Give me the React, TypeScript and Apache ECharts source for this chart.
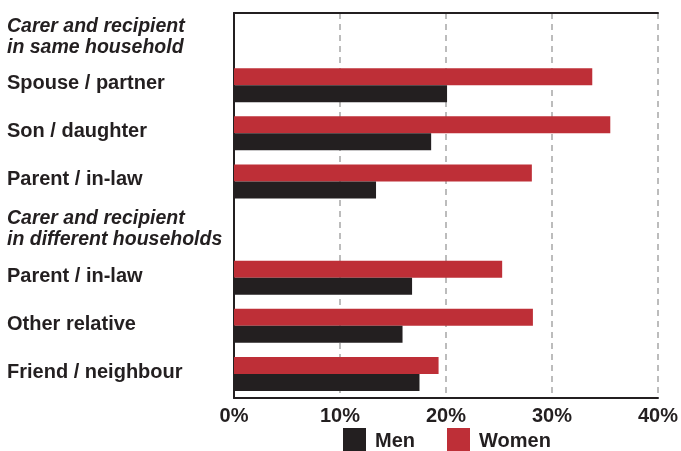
import React, { useEffect, useRef } from "react";
import * as echarts from "echarts";

const categoryKeys = ["hdrSame", "spouse", "son", "parentSame", "hdrDiff", "parentDiff", "other", "friend"];
const categoryLabels = [
  "Carer and recipient\nin same household",
  "Spouse / partner",
  "Son / daughter",
  "Parent / in-law",
  "Carer and recipient\nin different households",
  "Parent / in-law",
  "Other relative",
  "Friend / neighbour",
];
const headerFlags = [true, false, false, false, true, false, false, false];
const womenValues: (number | null)[] = [null, 33.8, 35.5, 28.1, null, 25.3, 28.2, 19.3];
const menValues: (number | null)[] = [null, 20.1, 18.6, 13.4, null, 16.8, 15.9, 17.5];
const xTicks = [0, 10, 20, 30, 40];

const RED = "#BE2F37";
const BLACK = "#231F20";
const FONT = "Liberation Sans, Arial, sans-serif";

export default function App() {
  const ref = useRef<HTMLDivElement>(null);
  useEffect(() => {
    if (!ref.current) return;
    const chart = echarts.init(ref.current, null, { renderer: "svg" });
    chart.setOption({
      animation: false,
      grid: { left: 234, right: 21, top: 13, bottom: 53, containLabel: false },
      legend: {
        data: ["Men", "Women"],
        left: 343,
        top: 428,
        padding: 0,
        icon: "rect",
        itemWidth: 23,
        itemHeight: 23,
        itemGap: 32,
        textStyle: { fontFamily: FONT, fontWeight: "bold", fontSize: 20, lineHeight: 23, color: BLACK, padding: [0, 0, 0, 4] },
      },
      xAxis: [
        {
          type: "value",
          min: xTicks[0],
          max: xTicks[xTicks.length - 1],
          interval: 10,
          axisLine: { show: true, lineStyle: { color: BLACK, width: 2 } },
          axisTick: { show: false },
          axisLabel: {
            formatter: (v: number) => v + "%",
            fontFamily: FONT,
            fontWeight: "bold",
            fontSize: 20,
            color: BLACK,
            margin: 7,
          },
          splitLine: { show: true, lineStyle: { color: "#a6a6a6", width: 1.5, type: [6, 5] } },
        },
        {
          type: "value",
          position: "top",
          min: xTicks[0],
          max: xTicks[xTicks.length - 1],
          interval: 10,
          axisLine: { show: true, lineStyle: { color: BLACK, width: 2 } },
          axisTick: { show: false },
          axisLabel: { show: false },
          splitLine: { show: false },
        },
      ],
      yAxis: {
        type: "category",
        inverse: true,
        data: categoryKeys,
        axisLine: { show: true, lineStyle: { color: BLACK, width: 2 } },
        axisTick: { show: false },
        axisLabel: {
          align: "left",
          margin: 227,
          formatter: (_v: string, i: number) =>
            headerFlags[i] ? "{h|" + categoryLabels[i] + "}" : "{n|" + categoryLabels[i] + "}",
          rich: {
            h: { fontFamily: FONT, fontWeight: "bold", fontStyle: "italic", fontSize: 19.5, lineHeight: 21, color: BLACK, padding: [0, 0, 4, 0] },
            n: { fontFamily: FONT, fontWeight: "bold", fontSize: 20, lineHeight: 22, color: BLACK, padding: [0, 0, 6, 0] },
          },
        },
      },
      series: [
        {
          name: "Women",
          type: "bar",
          data: womenValues,
          barWidth: 17,
          barGap: "0%",
          itemStyle: { color: RED },
        },
        {
          name: "Men",
          type: "bar",
          data: menValues,
          barWidth: 17,
          barGap: "0%",
          itemStyle: { color: BLACK },
        },
      ],
    });
    return () => chart.dispose();
  }, []);
  return <div ref={ref} style={{ position: "fixed", left: 0, top: 0, width: 681, height: 451 }} />;
}
